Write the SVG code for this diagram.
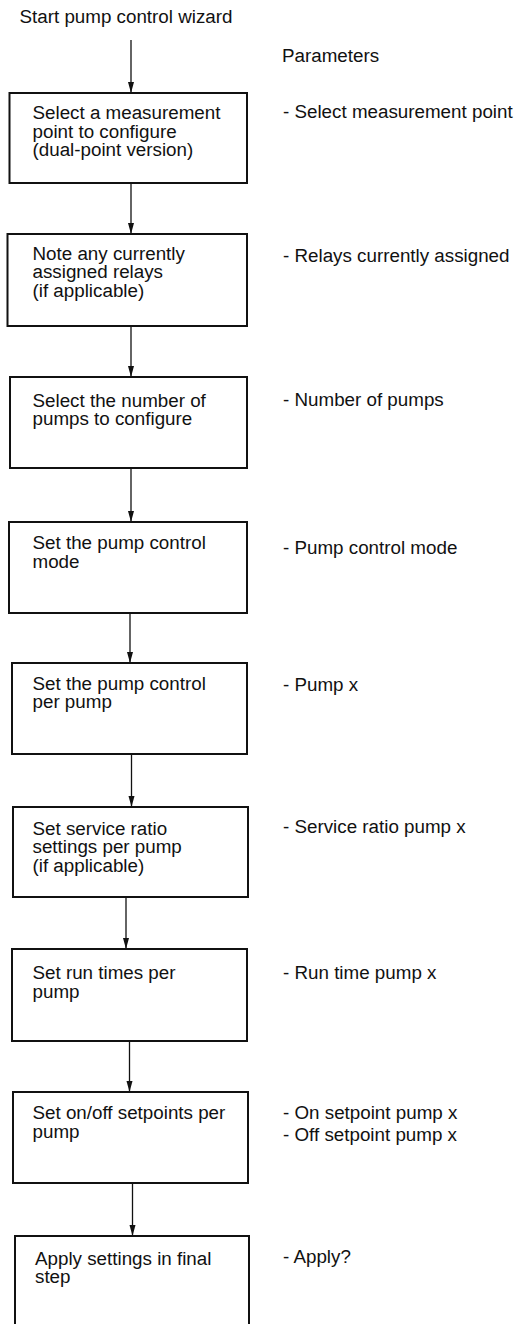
<svg xmlns="http://www.w3.org/2000/svg" width="517" height="1324" viewBox="0 0 517 1324">
<style>
  .box { fill: #ffffff; stroke: #111111; stroke-width: 2; }
  .txt { font-family: "Liberation Sans", Arial, sans-serif; font-size: 18.8px; fill: #111111; }
  .conn { stroke: #111111; stroke-width: 1.3; fill: none; marker-end: url(#arrow); }
</style>
<defs>
  <marker id="arrow" markerUnits="userSpaceOnUse" markerWidth="11" markerHeight="7" refX="11" refY="3" orient="auto">
    <path d="M0,0 L11,3 L0,6 z" fill="#111111"/>
  </marker>
</defs>
<rect width="517" height="1324" fill="#ffffff"/>

<g id="start"><text class="txt" x="19.5" y="22.6">Start pump control wizard</text></g>
<g id="params-header"><text class="txt" x="282" y="61.7">Parameters</text></g>

<g id="connectors">
  <line class="conn" x1="131" y1="40" x2="131" y2="93"/>
  <line class="conn" x1="131" y1="183" x2="131" y2="234"/>
  <line class="conn" x1="131" y1="326" x2="131" y2="377"/>
  <line class="conn" x1="131" y1="468" x2="131" y2="522"/>
  <line class="conn" x1="130" y1="613" x2="130" y2="663"/>
  <line class="conn" x1="131.5" y1="754" x2="131.5" y2="807"/>
  <line class="conn" x1="126" y1="897" x2="126" y2="949"/>
  <line class="conn" x1="129.5" y1="1041" x2="129.5" y2="1092"/>
  <line class="conn" x1="132.5" y1="1183" x2="132.5" y2="1236"/>
</g>

<g id="step1">
  <rect class="box" x="9.5" y="93" width="237.5" height="90"/>
  <text class="txt" x="32.5" y="119.3">Select a measurement<tspan x="32.5" dy="18.4">point to configure</tspan><tspan x="32.5" dy="18.4">(dual-point version)</tspan></text>
</g>
<g id="step2">
  <rect class="box" x="7.5" y="234" width="239.5" height="92"/>
  <text class="txt" x="32.5" y="260">Note any currently<tspan x="32.5" dy="18.4">assigned relays</tspan><tspan x="32.5" dy="18.4">(if applicable)</tspan></text>
</g>
<g id="step3">
  <rect class="box" x="10" y="377" width="237" height="91"/>
  <text class="txt" x="32.5" y="406.7">Select the number of<tspan x="32.5" dy="18.4">pumps to configure</tspan></text>
</g>
<g id="step4">
  <rect class="box" x="9" y="522" width="238" height="91"/>
  <text class="txt" x="32.5" y="549.3">Set the pump control<tspan x="32.5" dy="18.4">mode</tspan></text>
</g>
<g id="step5">
  <rect class="box" x="12" y="663" width="235" height="91"/>
  <text class="txt" x="32.5" y="690">Set the pump control<tspan x="32.5" dy="18.4">per pump</tspan></text>
</g>
<g id="step6">
  <rect class="box" x="13" y="807" width="235" height="90"/>
  <text class="txt" x="32.5" y="835">Set service ratio<tspan x="32.5" dy="18.4">settings per pump</tspan><tspan x="32.5" dy="18.4">(if applicable)</tspan></text>
</g>
<g id="step7">
  <rect class="box" x="12" y="949" width="235" height="92"/>
  <text class="txt" x="32.5" y="979.3">Set run times per<tspan x="32.5" dy="18.4">pump</tspan></text>
</g>
<g id="step8">
  <rect class="box" x="13" y="1092" width="235" height="91"/>
  <text class="txt" x="32.5" y="1119.3">Set on/off setpoints per<tspan x="32.5" dy="18.4">pump</tspan></text>
</g>
<g id="step9">
  <rect class="box" x="15" y="1236" width="234" height="100"/>
  <text class="txt" x="35" y="1265">Apply settings in final<tspan x="35" dy="18.4">step</tspan></text>
</g>

<g id="param1"><text class="txt" x="283" y="118">- Select measurement point</text></g>
<g id="param2"><text class="txt" x="283" y="261.7">- Relays currently assigned</text></g>
<g id="param3"><text class="txt" x="283" y="406">- Number of pumps</text></g>
<g id="param4"><text class="txt" x="283" y="554">- Pump control mode</text></g>
<g id="param5"><text class="txt" x="283" y="691">- Pump x</text></g>
<g id="param6"><text class="txt" x="283" y="833.3">- Service ratio pump x</text></g>
<g id="param7"><text class="txt" x="283" y="979.3">- Run time pump x</text></g>
<g id="param8"><text class="txt" x="283" y="1119.3">- On setpoint pump x<tspan x="283" dy="21.7">- Off setpoint pump x</tspan></text></g>
<g id="param9"><text class="txt" x="283" y="1263.3">- Apply?</text></g>
</svg>
